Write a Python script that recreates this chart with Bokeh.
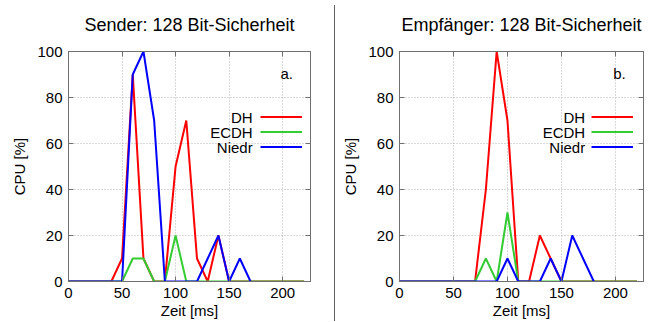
from bokeh.plotting import figure
from bokeh.layouts import row
from bokeh.models import (Range1d, LinearAxis, FixedTicker, Label, Legend,
                          LegendItem, Div, Title)
from bokeh.embed import file_html
from bokeh.resources import INLINE

# ---------------- data ----------------
zeit_ms = [0, 10, 20, 30, 40, 50, 60, 70, 80, 90, 100, 110, 120, 130, 140,
           150, 160, 170, 180, 190, 200, 210, 220]

sender_dh    = [0, 0, 0, 0, 0, 10, 90, 10, 0, 0, 50, 70, 10, 0, 20, 0, 0, 0, 0, 0, 0, 0, 0]
sender_ecdh  = [0, 0, 0, 0, 0, 0, 10, 10, 0, 0, 20, 0, 0, 0, 0, 0, 0, 0, 0, 0, 0, 0, 0]
sender_niedr = [0, 0, 0, 0, 0, 0, 90, 100, 70, 0, 0, 0, 0, 10, 20, 0, 10, 0]

empf_dh    = [0, 0, 0, 0, 0, 0, 0, 0, 40, 100, 70, 0, 0, 20, 10, 0, 0, 0, 0, 0, 0, 0, 0]
empf_ecdh  = [0, 0, 0, 0, 0, 0, 0, 0, 10, 0, 30, 0, 0, 0, 0, 0, 0, 0, 0, 0, 0, 0, 0]
empf_niedr = [0, 0, 0, 0, 0, 0, 0, 0, 0, 0, 10, 0, 0, 0, 10, 0, 20, 10, 0]

series_names = ["DH", "ECDH", "Niedr"]
series_colors = ["#ff0000", "#33cc33", "#0000ff"]
titles = ["Sender: 128 Bit-Sicherheit", "Empfänger: 128 Bit-Sicherheit"]
panel_tags = ["a.", "b."]
x_ticks = [0, 50, 100, 150, 200]
y_ticks = [0, 20, 40, 60, 80, 100]

FONT = "Liberation Sans"
FRAME_COL = "#707070"
H = 321


def make_panel(title, series, tag, width, border_left, border_right):
    p = figure(width=width, height=H, output_backend="svg",
               toolbar_location=None, x_range=Range1d(0, 226),
               y_range=Range1d(0, 100), min_border_left=border_left,
               min_border_right=border_right, min_border_top=5,
               min_border_bottom=H - 281, frame_height=230,
               x_axis_label="Zeit [ms]", y_axis_label="CPU [%]")
    p.title = Title(text=title, align="center", text_font_size="18px",
                    text_font_style="normal", text_font=FONT,
                    text_color="black", standoff=29, vertical_align="top",
                    text_line_height=0.8)
    p.outline_line_color = FRAME_COL
    p.outline_line_width = 1
    p.background_fill_color = "white"
    p.border_fill_color = "white"

    for ax in (p.xaxis[0], p.yaxis[0]):
        ax.axis_label_text_font = FONT
        ax.axis_label_text_font_size = "15px"
        ax.axis_label_text_font_style = "normal"
        ax.axis_label_text_color = "black"
        ax.major_label_text_font = FONT
        ax.major_label_text_font_size = "15px"
        ax.major_label_text_color = "black"
        ax.major_tick_in = 5
        ax.major_tick_out = 0
        ax.minor_tick_line_color = None
        ax.major_tick_line_color = FRAME_COL
        ax.axis_line_color = FRAME_COL
        ax.major_label_standoff = 6
    p.xaxis[0].ticker = FixedTicker(ticks=x_ticks)
    p.yaxis[0].ticker = FixedTicker(ticks=y_ticks)
    p.xaxis[0].axis_label_standoff = 1
    p.yaxis[0].axis_label_standoff = 6

    # mirrored ticks on top and right (labels not drawn)
    top = LinearAxis(ticker=FixedTicker(ticks=x_ticks))
    right = LinearAxis(ticker=FixedTicker(ticks=y_ticks))
    for ax in (top, right):
        ax.major_label_text_font_size = "1px"
        ax.major_label_text_color = None
        ax.major_label_text_alpha = 0
        ax.major_label_standoff = 0
        ax.major_tick_in = 5
        ax.major_tick_out = 0
        ax.minor_tick_line_color = None
        ax.major_tick_line_color = FRAME_COL
        ax.axis_line_color = FRAME_COL
    p.add_layout(top, "above")
    p.add_layout(right, "right")

    p.xgrid.ticker = FixedTicker(ticks=x_ticks)
    p.ygrid.ticker = FixedTicker(ticks=y_ticks)
    for g in (p.xgrid[0], p.ygrid[0]):
        g.grid_line_color = "#b4b4b4"
        g.grid_line_dash = "1 2"
        g.grid_line_width = 1

    renderers = []
    for vals, col in zip(series, series_colors):
        r = p.line(zeit_ms[:len(vals)], vals, line_color=col, line_width=2)
        renderers.append(r)

    # legend: text right-aligned, line sample to the right
    leg_y = [71.4, 64.9, 58.1]
    for name, yy in zip(series_names, leg_y):
        p.add_layout(Label(x=172, y=yy, text=name, text_align="right",
                           text_baseline="middle", text_font=FONT,
                           text_font_size="15px", text_color="black"))
    legend = Legend(items=[LegendItem(label=" ", renderers=[r]) for r in renderers],
                    location=(192, 127), orientation="vertical",
                    border_line_alpha=0, background_fill_alpha=0,
                    padding=0, margin=0, spacing=0, glyph_width=42,
                    glyph_height=15, label_height=15, label_width=0,
                    label_standoff=0, label_text_font_size="1px",
                    label_text_color=None, label_text_alpha=0)
    p.add_layout(legend, "center")

    p.add_layout(Label(x=198, y=90.6, text=tag, text_align="left",
                       text_baseline="middle", text_font=FONT,
                       text_font_size="15px", text_color="black"))
    return p


p1 = make_panel(titles[0], [sender_dh, sender_ecdh, sender_niedr],
                panel_tags[0], 334, 68, 24)
sep = Div(text="", width=1, height=H - 5, margin=(5, 0, 0, 0),
          styles={"background-color": "#606060"})
p2 = make_panel(titles[1], [empf_dh, empf_ecdh, empf_niedr],
                panel_tags[1], 313, 64, 5)

layout = row(p1, sep, p2)
open("out.html", "w").write(file_html(layout, INLINE))
